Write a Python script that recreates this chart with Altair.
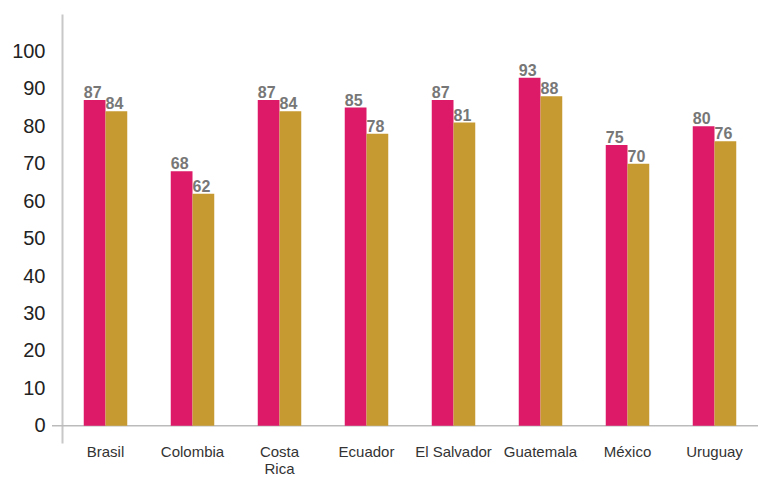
import altair as alt
import pandas as pd

countries = ["Brasil", "Colombia", "Costa Rica", "Ecuador", "El Salvador", "Guatemala", "México", "Uruguay"]
serie1 = [87, 68, 87, 85, 87, 93, 75, 80]
serie2 = [84, 62, 84, 78, 81, 88, 70, 76]
series = ["Serie 1", "Serie 2"]
colors = ["#DC1A68", "#C79A31"]
y_ticks = [0, 10, 20, 30, 40, 50, 60, 70, 80, 90, 100]

rows = []
for c, a, b in zip(countries, serie1, serie2):
    rows.append({"country": c, "serie": series[0], "value": a})
    rows.append({"country": c, "serie": series[1], "value": b})
df = pd.DataFrame(rows)

W, H = 696, 429
FONT = "Liberation Sans"

x_enc = alt.X(
    "country:N",
    sort=countries,
    scale=alt.Scale(paddingInner=0.5, paddingOuter=0.25),
    axis=alt.Axis(
        title=None, labelAngle=0, domain=False, ticks=False, labelPadding=1,
        labelFontSize=15, labelColor="#333", labelFont=FONT, labelBaseline="top",
        labelExpr="datum.label == 'Costa Rica' ? ['Costa', 'Rica'] : datum.label",
        labelLineHeight=17,
    ),
)
xoff = alt.XOffset("serie:N", sort=series)
y_scale = alt.Scale(domain=[-4.6, 110], nice=False, zero=False)

bars = alt.Chart(df).mark_bar().encode(
    x=x_enc,
    xOffset=xoff,
    y=alt.Y(
        "value:Q", scale=y_scale,
        axis=alt.Axis(
            title=None, values=y_ticks, grid=False, ticks=False, domain=True,
            domainColor="#c8c8c8", domainWidth=2, labelFontSize=20,
            labelColor="#222", labelFont=FONT, labelPadding=17,
        ),
    ),
    y2=alt.datum(0),
    color=alt.Color("serie:N", scale=alt.Scale(domain=series, range=colors), legend=None),
)

labels = alt.Chart(df).mark_text(
    baseline="alphabetic", dy=-2, dx=-2, fontWeight="bold", fontSize=16,
    color="#777", font=FONT,
).encode(
    x=x_enc,
    xOffset=xoff,
    y=alt.Y("value:Q", scale=y_scale),
    text="value:Q",
)

zero_rule = alt.Chart(pd.DataFrame({"y": [0]})).mark_rule(
    color="#bbbbbb", strokeWidth=1.5
).encode(
    y=alt.Y("y:Q", scale=y_scale),
    x=alt.value(-10),
    x2=alt.value(W),
)

chart = alt.layer(zero_rule, bars, labels).properties(
    width=W, height=H,
    autosize=alt.AutoSizeParams(type="none"),
    padding={"left": 54, "top": 6, "right": 0, "bottom": 33},
).configure_view(stroke=None)

chart.save("out.html", embed_options={"renderer": "svg", "actions": False})
